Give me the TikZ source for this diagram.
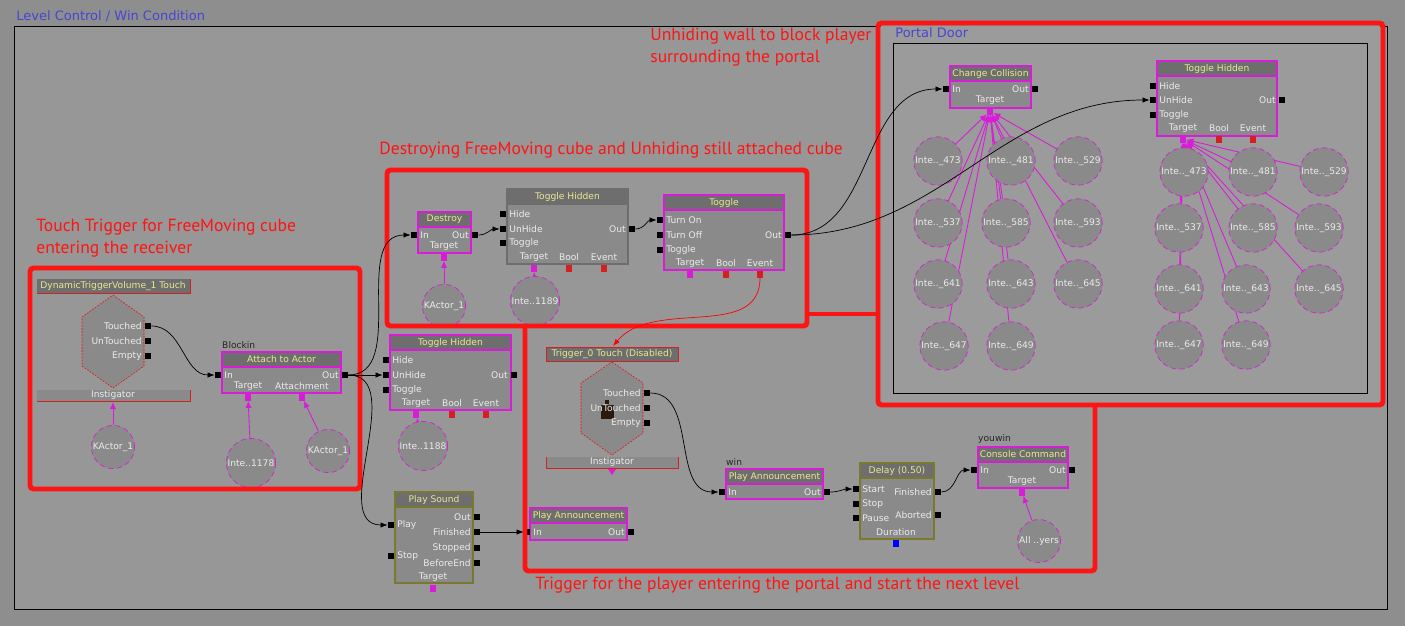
\documentclass[tikz,border=0pt]{standalone}
\usepackage{fontspec}
\newfontfamily\kfont{DejaVu Sans}
\newfontfamily\notefont{PT Sans}
\usetikzlibrary{arrows.meta}
\pgfdeclarelayer{bg}
\pgfdeclarelayer{wires}
\pgfsetlayers{bg,wires,main}

\definecolor{canvas}{HTML}{8E8E8E}
\definecolor{panel}{HTML}{979797}
\definecolor{portal}{HTML}{9B9B9B}
\definecolor{ktitle}{HTML}{6E6E6E}
\definecolor{kbody}{HTML}{8A8A8A}
\definecolor{kmag}{HTML}{D81CD8}
\definecolor{kred}{HTML}{D42020}
\definecolor{kolive}{HTML}{7A7A2E}
\definecolor{kyellow}{HTML}{E8E890}
\definecolor{kblue}{HTML}{4646D2}
\definecolor{kicon}{HTML}{2A1A10}
\definecolor{note}{HTML}{FF1414}

\tikzset{
  kport/.style={fill=black, inner sep=0pt, minimum size=0.12cm},
  kvarport/.style={inner sep=0pt, minimum width=0.12cm, minimum height=0.14cm},
  ktext/.style={font={\kfont\fontsize{5.2}{6}\selectfont}, text=white!92!black, inner sep=0.5pt},
  ktitletext/.style={ktext, text=kyellow},
  kvar/.style={circle, draw=kmag, densely dashed, line width=0.4pt, fill=kbody, minimum size=0.86cm, inner sep=0pt, ktext},
  khex/.style={draw=red, dash pattern=on 1pt off 0.8pt, line width=0.3pt, fill=kbody},
  kwire/.style={black, line width=0.4pt, -{Latex[length=4pt,width=3pt]}},
  klink/.style={kmag, line width=0.5pt, -{Latex[length=4pt,width=3.5pt]}},
  kbox/.style={line width=2.8pt, draw=note, rounded corners=2pt},
  kframe/.style={font={\kfont\fontsize{7.4}{9}\selectfont}, text=kblue, anchor=west, inner sep=0pt},
  kname/.style={ktext, text=black!85, anchor=south west},
  notetext/.style={font={\notefont\fontsize{10}{12.5}\selectfont}, text=note, anchor=north west, inner sep=0pt, align=left}
}

% block: x1, y1, x2, y under title, y2, border
\newcommand\kblock[6]{%
  \fill[ktitle] (#1,#2) rectangle (#3,#4);
  \fill[kbody] (#1,#4) rectangle (#3,#5);
  \draw[#6, line width=0.6pt] (#1,#2) rectangle (#3,#5) (#1,#4) -- (#3,#4);}
\newcommand\kin[4]{\node[kport] (#1) at (#2,#3) {}; \node[ktext, anchor=west] (#1l) at ([xshift=1pt]#1.east) {#4};}
\newcommand\kout[4]{\node[kport] (#1) at (#2,#3) {}; \node[ktext, anchor=east] (#1l) at ([xshift=-1pt]#1.west) {#4};}
\newcommand\kvarp[5]{\node[ktext] (#1l) at (#2,#3-11) {#4}; \node[kvarport, fill=#5] (#1) at (#2,#3) {};}

\begin{document}
\begin{tikzpicture}[x=0.02cm, y=-0.02cm]
	%%%%% START %%%%%
	\useasboundingbox (0,0) rectangle (1405,626);
	\begin{pgfonlayer}{bg}
		\fill[canvas] (0,0) rectangle (1405,626);
		\draw[fill=panel, line width=0.5pt] (14,26) rectangle (1387,609);
		\fill[portal] (881,26) rectangle (1380,402);
		\draw[line width=0.5pt] (893,43) rectangle (1367,393);
	\end{pgfonlayer}
	
	\node[kframe] (fLevel) at (16,16) {Level Control / Win Condition};
	\node[kframe] (fPortal) at (895,33) {Portal Door};
	
	%% touch trigger
	\fill[ktitle] (37,279) rectangle (190,293);
	\draw[kred, line width=0.5pt] (37,293) -- (190,293) -- (190,279);
	\node[ktitletext] (dTitle) at (113,286) {DynamicTriggerVolume\_1 Touch};
	\draw[khex] (113,295) -- (144,317) -- (144,366) -- (113,388) -- (82,366) -- (82,317) -- cycle;
	\kout{dT}{148}{326}{Touched}
	\kout{dU}{148}{341}{UnTouched}
	\kout{dE}{148}{356}{Empty}
	\fill[kbody] (37,390) rectangle (190,401);
	\draw[kred, line width=0.5pt] (37,401) -- (190,401) -- (190,390);
	\node[ktext] (dInstl) at (113,395) {Instigator};
	\coordinate (dInst) at (113,402);
	\node[kvar] (ka1) at (113,447) {KActor\_1};
	
	\kblock{222}{352}{341}{367}{393}{kmag}
	\node[ktitletext] (aTitle) at (281.5,359.5) {Attach to Actor};
	\node[kname] (aName) at (221,350) {Blockin};
	\kin{aIn}{218}{375}{In}
	\kout{aOut}{345}{375}{Out}
	\kvarp{aTgt}{248}{397}{Target}{kmag}
	\kvarp{aAtt}{302}{397}{Attachment}{kmag}
	\node[kvar] (ai1178) at (251,463) {Inte..1178};
	\node[kvar] (ka2) at (328,451) {KActor\_1};
	
	%% destroy and unhide
	\kblock{418}{212}{471}{227}{253}{kmag}
	\node[ktitletext] (xTitle) at (444.5,219.5) {Destroy};
	\kin{xIn}{414}{235}{In}
	\kout{xOut}{475}{235}{Out}
	\kvarp{xTgt}{444}{257}{Target}{kmag}
	\node[kvar] (ka3) at (444,306) {KActor\_1};
	
	\kblock{507}{189}{628}{204}{264}{ktitle}
	\node[ktitletext] (hTitle) at (567.5,196.5) {Toggle Hidden};
	\kin{hHide}{503}{214}{Hide}
	\kin{hUn}{503}{229}{UnHide}
	\kin{hTog}{503}{243}{Toggle}
	\kout{hOut}{632}{229}{Out}
	\kvarp{hTgt}{534}{268}{Target}{kmag}
	\kvarp{hBool}{569}{268}{Bool}{kred}
	\kvarp{hEvt}{604}{268}{Event}{kred}
	\node[kvar] (ai1189) at (535,301) {Inte..1189};
	
	\kblock{664}{195}{784}{210}{270}{kmag}
	\node[ktitletext] (gTitle) at (724,202.5) {Toggle};
	\kin{gOn}{660}{220}{Turn On}
	\kin{gOff}{660}{235}{Turn Off}
	\kin{gTog}{660}{250}{Toggle}
	\kout{gOut}{788}{235}{Out}
	\kvarp{gTgt}{690}{274}{Target}{kmag}
	\kvarp{gBool}{726}{274}{Bool}{kred}
	\kvarp{gEvt}{760}{274}{Event}{kred}
	
	\kblock{390}{335}{511}{350}{410}{kmag}
	\node[ktitletext] (iTitle) at (450.5,342.5) {Toggle Hidden};
	\kin{iHide}{386}{360}{Hide}
	\kin{iUn}{386}{375}{UnHide}
	\kin{iTog}{386}{390}{Toggle}
	\kout{iOut}{514}{375}{Out}
	\kvarp{iTgt}{416}{414}{Target}{kmag}
	\kvarp{iBool}{452}{414}{Bool}{kred}
	\kvarp{iEvt}{486}{414}{Event}{kred}
	\node[kvar] (ai1188) at (423,446) {Inte..1188};
	
	\kblock{395}{492}{473}{507}{583}{kolive}
	\node[ktitletext] (sTitle) at (434,499.5) {Play Sound};
	\kin{sPlay}{391}{525}{Play}
	\kin{sStop}{391}{556}{Stop}
	\kout{sOut}{477}{517}{Out}
	\kout{sFin}{477}{532}{Finished}
	\kout{sStp}{477}{548}{Stopped}
	\kout{sBE}{477}{563}{BeforeEnd}
	\kvarp{sTgt}{433}{588}{Target}{kmag}
	
	\kblock{530}{508}{627}{523}{540}{kmag}
	\node[ktitletext] (pTitle) at (578.5,515.5) {Play Announcement};
	\kin{pIn}{527}{532}{In}
	\kout{pOut}{631}{532}{Out}
	
	%% trigger for the player
	\fill[ktitle] (546,347) rectangle (678,361);
	\draw[kred, line width=0.5pt] (546,361) -- (546,347) -- (678,347) -- (678,361) -- cycle;
	\node[ktitletext] (tTitle) at (612,354) {Trigger\_0 Touch (Disabled)};
	\coordinate (tTop) at (613,346);
	\draw[khex] (612,362) -- (643,383) -- (643,433) -- (612,455) -- (581,433) -- (581,383) -- cycle;
	\fill[kicon] (601,405) rectangle (614,419);
	\fill[kicon] (605,400) rectangle (609,405);
	\kout{tT}{647}{393}{Touched}
	\kout{tU}{647}{408}{UnTouched}
	\kout{tE}{647}{423}{Empty}
	\fill[kbody] (546,457) rectangle (678,468);
	\draw[kred, line width=0.5pt] (546,457) -- (546,468) -- (678,468) -- (678,457);
	\node[ktext] (tInstl) at (612,462) {Instigator};
	\fill[kmag] (608,469) -- (616,469) -- (612,475) -- cycle;
	
	\kblock{726}{469}{823}{484}{499}{kmag}
	\node[ktitletext] (wTitle) at (774.5,476.5) {Play Announcement};
	\node[kname] (wName) at (725,467) {win};
	\kin{wIn}{722}{492}{In}
	\kout{wOut}{827}{492}{Out}
	
	\kblock{860}{463}{934}{478}{539}{kolive}
	\node[ktitletext] (yTitle) at (897,470.5) {Delay (0.50)};
	\kin{yStart}{856}{489}{Start}
	\kin{yStop}{856}{504}{Stop}
	\kin{yPause}{856}{518}{Pause}
	\kout{yFin}{938}{492}{Finished}
	\kout{yAb}{938}{515}{Aborted}
	\kvarp{yDur}{896}{543}{Duration}{blue}
	
	\kblock{978}{447}{1068}{462}{488}{kmag}
	\node[ktitletext] (cTitle) at (1023,454.5) {Console Command};
	\node[kname] (cName) at (977,445) {youwin};
	\kin{cIn}{974}{470}{In}
	\kout{cOut}{1072}{470}{Out}
	\kvarp{cTgt}{1022}{492}{Target}{kmag}
	\node[kvar] (allp) at (1039,541) {All ..yers};
	
	%% portal door
	\kblock{950}{66}{1031}{81}{108}{kmag}
	\node[ktitletext] (mTitle) at (990.5,73.5) {Change Collision};
	\kin{mIn}{946}{89}{In}
	\kout{mOut}{1035}{89}{Out}
	\kvarp{mTgt}{990}{111}{Target}{kmag}
	
	\kblock{1157}{61}{1277}{76}{136}{kmag}
	\node[ktitletext] (nTitle) at (1217,68.5) {Toggle Hidden};
	\kin{nHide}{1153}{86}{Hide}
	\kin{nUn}{1153}{100}{UnHide}
	\kin{nTog}{1153}{115}{Toggle}
	\kout{nOut}{1282}{100}{Out}
	\kvarp{nTgt}{1183}{139}{Target}{kmag}
	\kvarp{nBool}{1219}{139}{Bool}{kred}
	\kvarp{nEvt}{1253}{139}{Event}{kred}
	
	\foreach \n/\x/\y in {473/938/161, 481/1011/161, 529/1078/161, 537/938/223, 585/1006/223, 593/1078/223, 641/938/284, 643/1011/284, 645/1078/284, 647/944/346, 649/1011/346}
		\node[kvar] (l\n) at (\x,\y) {Inte..\_\n};
	\foreach \n/\x/\y in {473/1184/172, 481/1253/172, 529/1324/172, 537/1179/228, 585/1253/228, 593/1319/228, 641/1179/289, 643/1246/289, 645/1319/289, 647/1179/345, 649/1246/345}
		\node[kvar] (r\n) at (\x,\y) {Inte..\_\n};
	
	%% variable links
	\begin{pgfonlayer}{wires}
		\draw[klink] (ka1) -- (dInst);
		\draw[klink] (ai1178) -- (aTgt);
		\draw[klink] (ka2) -- (aAtt);
		\draw[klink] (ka3) -- (xTgt);
		\draw[klink] (ai1189) -- (hTgt);
		\draw[klink] (ai1188) -- (iTgt);
		\draw[klink] (allp) -- (cTgt);
		\foreach \n in {473,481,529,537,585,593,641,643,645,647,649} {
			\draw[klink] (l\n) -- (mTgt);
			\draw[klink] (r\n) -- (nTgt);
		}
	\end{pgfonlayer}
	
	%% red frames
	\draw[kbox] (30,268) rectangle (360,489);
	\draw[kbox] (387,170) rectangle (807,326);
	\draw[kbox] (878,23) rectangle (1383,405);
	\draw[kbox] (525,326) -- (525,571) -- (1095,571) -- (1095,405);
	\draw[kbox] (807,314) -- (878,314);
	
	%% wires
	\draw[kwire] (dT) to[out=0, in=180] (aIn);
	\draw[kwire] (aOut) to[out=0, in=180] (xIn);
	\draw[kwire] (aOut) -- (iUn);
	\draw[kwire] (aOut) to[out=0, in=180] (sPlay);
	\draw[kwire] (xOut) to[out=0, in=180] (hUn);
	\draw[kwire] (hOut) to[out=0, in=180] (gOn);
	\draw[kwire] (gOut) to[out=0, in=180] (mIn);
	\draw[kwire] (gOut) to[out=0, in=180] (nUn);
	\draw[kwire] (sFin) -- (pIn);
	\draw[kwire] (tT) to[out=0, in=180] (wIn);
	\draw[kwire] (wOut) to[out=0, in=180] (yStart);
	\draw[kwire] (yFin) to[out=0, in=180] (cIn);
	\draw[kwire, draw=red] (gEvt) to[out=-90, in=50] (tTop);
	
	%% notes
	\node[notetext] (nTouch) at (36,219) {Touch Trigger for FreeMoving cube\\entering the receiver};
	\node[notetext] (nDestroy) at (379,142) {Destroying FreeMoving cube and Unhiding still attached cube};
	\node[notetext] (nWall) at (650,28) {Unhiding wall to block player\\surrounding the portal};
	\node[notetext] (nPlayer) at (535,577) {Trigger for the player entering the portal and start the next level};
	%%%%% END %%%%%
\end{tikzpicture}
\end{document}
